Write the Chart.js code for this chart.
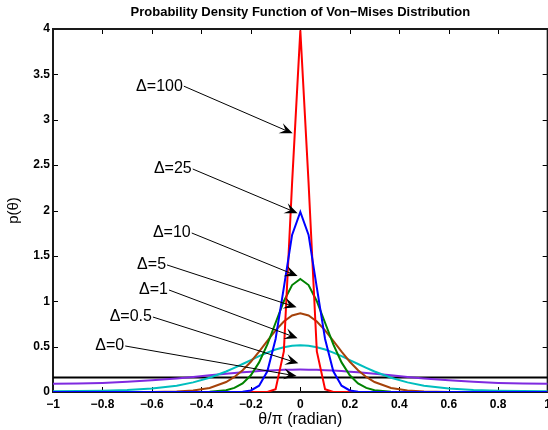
<!DOCTYPE html>
<html>
<head>
<meta charset="utf-8">
<script src="https://cdn.jsdelivr.net/npm/chart.js@4.4.0/dist/chart.umd.min.js"></script>
<style>
  html, body { margin: 0; padding: 0; background: #fff; overflow: hidden; }
  #wrap { width: 548px; height: 430px; overflow: hidden; }
  canvas { display: block; }
</style>
</head>
<body>
<div id="wrap"><canvas id="vm" width="556" height="430"></canvas></div>
<script>
// theta / pi sample points (denser near the peak)
const thetaOverPi = [-1, -0.9, -0.8, -0.7, -0.6, -0.5, -0.4333, -0.3667, -0.3, -0.2667, -0.2333, -0.2, -0.1667, -0.1333, -0.1, -0.0667, -0.0333,
  0,
  0.0333, 0.0667, 0.1, 0.1333, 0.1667, 0.2, 0.2333, 0.2667, 0.3, 0.3667, 0.4333, 0.5, 0.6, 0.7, 0.8, 0.9, 1];

// p(theta), one list per curve
const pDelta0 = [0.159, 0.159, 0.159, 0.159, 0.159, 0.159, 0.159, 0.159, 0.159, 0.159, 0.159, 0.159, 0.159, 0.159, 0.159, 0.159, 0.159,
  0.159,
  0.159, 0.159, 0.159, 0.159, 0.159, 0.159, 0.159, 0.159, 0.159, 0.159, 0.159, 0.159, 0.159, 0.159, 0.159, 0.159, 0.159];
const pDelta05 = [0.0908, 0.0930, 0.0999, 0.1116, 0.1282, 0.1497, 0.1661, 0.1834, 0.2008, 0.2091, 0.2170, 0.2243, 0.2308, 0.2363, 0.2408, 0.2441, 0.2461,
  0.2467,
  0.2461, 0.2441, 0.2408, 0.2363, 0.2308, 0.2243, 0.2170, 0.2091, 0.2008, 0.1834, 0.1661, 0.1497, 0.1282, 0.1116, 0.0999, 0.0930, 0.0908];
const pDelta1 = [0.0094, 0.0104, 0.0138, 0.0215, 0.0376, 0.0698, 0.1058, 0.1575, 0.2262, 0.2662, 0.3087, 0.3521, 0.3946, 0.4340, 0.4678, 0.4938, 0.5103,
  0.5159,
  0.5103, 0.4938, 0.4678, 0.4340, 0.3946, 0.3521, 0.3087, 0.2662, 0.2262, 0.1575, 0.1058, 0.0698, 0.0376, 0.0215, 0.0138, 0.0104, 0.0094];
const pDelta5 = [0, 0.0001, 0.0001, 0.0003, 0.0012, 0.0058, 0.0165, 0.0446, 0.1104, 0.1658, 0.2401, 0.3337, 0.4438, 0.5628, 0.6789, 0.7774, 0.8437,
  0.8671,
  0.8437, 0.7774, 0.6789, 0.5628, 0.4438, 0.3337, 0.2401, 0.1658, 0.1104, 0.0446, 0.0165, 0.0058, 0.0012, 0.0003, 0.0001, 0.0001, 0];
const pDelta10 = [0, 0, 0, 0, 0, 0.0001, 0.0005, 0.0033, 0.0202, 0.0455, 0.0954, 0.1844, 0.3261, 0.5245, 0.7632, 1.0006, 1.1786,
  1.2450,
  1.1786, 1.0006, 0.7632, 0.5245, 0.3261, 0.1844, 0.0954, 0.0455, 0.0202, 0.0033, 0.0005, 0.0001, 0, 0, 0, 0, 0];
const pDelta25 = [0, 0, 0, 0, 0, 0, 0, 0, 0.0001, 0.0005, 0.0032, 0.0168, 0.0697, 0.2286, 0.5838, 1.1492, 1.7306,
  1.9846,
  1.7306, 1.1492, 0.5838, 0.2286, 0.0697, 0.0168, 0.0032, 0.0005, 0.0001, 0, 0, 0, 0, 0, 0, 0, 0];
const pDelta100 = [0, 0, 0, 0, 0, 0, 0, 0, 0, 0, 0, 0, 0, 0.0007, 0.0298, 0.4480, 2.3039,
  3.9844,
  2.3039, 0.4480, 0.0298, 0.0007, 0, 0, 0, 0, 0, 0, 0, 0, 0, 0, 0, 0, 0];

const xTickValues = [-1, -0.8, -0.6, -0.4, -0.2, 0, 0.2, 0.4, 0.6, 0.8, 1];
const yTickValues = [0, 0.5, 1, 1.5, 2, 2.5, 3, 3.5, 4];

// first dataset is painted last (on top)
const curves = [
  { label: 'Δ=25', data: pDelta25, color: '#0000ff' },
  { label: 'Δ=100', data: pDelta100, color: '#ff0000' },
  { label: 'Δ=10', data: pDelta10, color: '#008200' },
  { label: 'Δ=5', data: pDelta5, color: '#a5420a' },
  { label: 'Δ=1', data: pDelta1, color: '#00bebe' },
  { label: 'Δ=0.5', data: pDelta05, color: '#7f2ae0' },
  { label: 'Δ=0', data: pDelta0, color: '#000000' }
];

// text arrows, in data units: text end (tx,ty) -> arrow tip (ax,ay)
const arrows = [
  { text: 'Δ=100', tx: -0.475, ty: 3.37, ax: -0.031, ay: 2.85 },
  { text: 'Δ=25', tx: -0.439, ty: 2.457, ax: -0.011, ay: 1.97 },
  { text: 'Δ=10', tx: -0.443, ty: 1.752, ax: -0.011, ay: 1.278 },
  { text: 'Δ=5', tx: -0.543, ty: 1.40, ax: -0.015, ay: 0.933 },
  { text: 'Δ=1', tx: -0.535, ty: 1.124, ax: -0.011, ay: 0.592 },
  { text: 'Δ=0.5', tx: -0.600, ty: 0.826, ax: -0.008, ay: 0.316 },
  { text: 'Δ=0', tx: -0.712, ty: 0.507, ax: -0.015, ay: 0.176 }
];

const chartTitle = 'Probability Density Function of Von\u2212Mises Distribution';
const fontFamily = '"Liberation Sans", Arial, Helvetica, sans-serif';

function fmtTick(v) {
  return String(Math.round(v * 10) / 10).replace('-', '\u2212');
}

const matlabAxes = {
  id: 'matlabAxes',
  beforeDatasetsDraw(chart) {
    const { ctx, chartArea: a, scales: { x, y } } = chart;
    ctx.save();
    ctx.strokeStyle = '#000';
    ctx.lineWidth = 1;
    ctx.beginPath();
    xTickValues.forEach(v => {
      const px = Math.round(x.getPixelForValue(v)) + 0.5;
      ctx.moveTo(px, a.bottom); ctx.lineTo(px, a.bottom - 5);
      ctx.moveTo(px, a.top); ctx.lineTo(px, a.top + 5);
    });
    yTickValues.forEach(v => {
      const py = Math.round(y.getPixelForValue(v)) + 0.5;
      ctx.moveTo(a.left, py); ctx.lineTo(a.left + 5, py);
      ctx.moveTo(a.right, py); ctx.lineTo(a.right - 5, py);
    });
    ctx.stroke();
    ctx.lineWidth = 2;
    ctx.strokeStyle = '#1a1a1a';
    ctx.strokeRect(a.left, a.top, a.right - a.left, a.bottom - a.top);

    // title, centred over the plot box
    ctx.fillStyle = '#000';
    ctx.font = 'bold 13px ' + fontFamily;
    ctx.textAlign = 'center';
    ctx.textBaseline = 'middle';
    ctx.fillText(chartTitle, (a.left + a.right) / 2, 12);
    ctx.restore();
  },
  afterDatasetsDraw(chart) {
    const { ctx, scales: { x, y } } = chart;
    ctx.save();
    ctx.font = '16px ' + fontFamily;
    ctx.fillStyle = '#000';
    ctx.strokeStyle = '#000';
    ctx.lineWidth = 1;
    ctx.textAlign = 'right';
    ctx.textBaseline = 'middle';
    arrows.forEach(n => {
      const tx = x.getPixelForValue(n.tx), ty = y.getPixelForValue(n.ty);
      const ax = x.getPixelForValue(n.ax), ay = y.getPixelForValue(n.ay);
      ctx.fillText(n.text, tx, ty);
      const ang = Math.atan2(ay - ty, ax - tx);
      const head = 13, half = 5.5;
      ctx.beginPath();
      ctx.moveTo(tx + 1, ty);
      ctx.lineTo(ax - Math.cos(ang) * head * 0.6, ay - Math.sin(ang) * head * 0.6);
      ctx.stroke();
      ctx.save();
      ctx.translate(ax, ay);
      ctx.rotate(ang);
      ctx.beginPath();
      ctx.moveTo(0, 0);
      ctx.lineTo(-head, -half);
      ctx.lineTo(-head * 0.6, 0);
      ctx.lineTo(-head, half);
      ctx.closePath();
      ctx.fill();
      ctx.restore();
    });
    ctx.restore();
  }
};

new Chart(document.getElementById('vm'), {
  type: 'line',
  data: {
    datasets: curves.map(c => ({
      label: c.label,
      data: thetaOverPi.map((t, i) => ({ x: t, y: c.data[i] })),
      borderColor: c.color,
      borderWidth: 2,
      pointRadius: 0,
      tension: 0,
      fill: false
    }))
  },
  options: {
    responsive: false,
    animation: false,
    devicePixelRatio: 1,
    layout: { padding: { left: 0, right: 6, top: 29, bottom: 0 } },
    plugins: {
      legend: { display: false },
      tooltip: { enabled: false },
      title: { display: false }
    },
    scales: {
      x: {
        type: 'linear',
        min: -1,
        max: 1,
        grid: { display: false, drawTicks: false },
        border: { display: false },
        afterBuildTicks: s => { s.ticks = xTickValues.map(v => ({ value: v })); },
        afterFit: s => { s.height = 38; },
        ticks: {
          color: '#000',
          font: { family: fontFamily, size: 12, weight: 'bold' },
          padding: 5,
          maxRotation: 0,
          autoSkip: false,
          callback: v => fmtTick(v)
        },
        title: {
          display: true,
          text: 'θ/π (radian)',
          color: '#000',
          font: { family: fontFamily, size: 16 },
          padding: { top: 0, bottom: 0.5 }
        }
      },
      y: {
        min: 0,
        max: 4,
        grid: { display: false, drawTicks: false },
        border: { display: false },
        afterBuildTicks: s => { s.ticks = yTickValues.map(v => ({ value: v })); },
        afterFit: s => { s.width = 53; },
        ticks: {
          color: '#000',
          font: { family: fontFamily, size: 12, weight: 'bold' },
          padding: 3,
          autoSkip: false,
          callback: v => fmtTick(v)
        },
        title: {
          display: true,
          text: 'p(θ)',
          color: '#000',
          font: { family: fontFamily, size: 15 },
          padding: { top: 5, bottom: 0 }
        }
      }
    }
  },
  plugins: [matlabAxes]
});
</script>
</body>
</html>
